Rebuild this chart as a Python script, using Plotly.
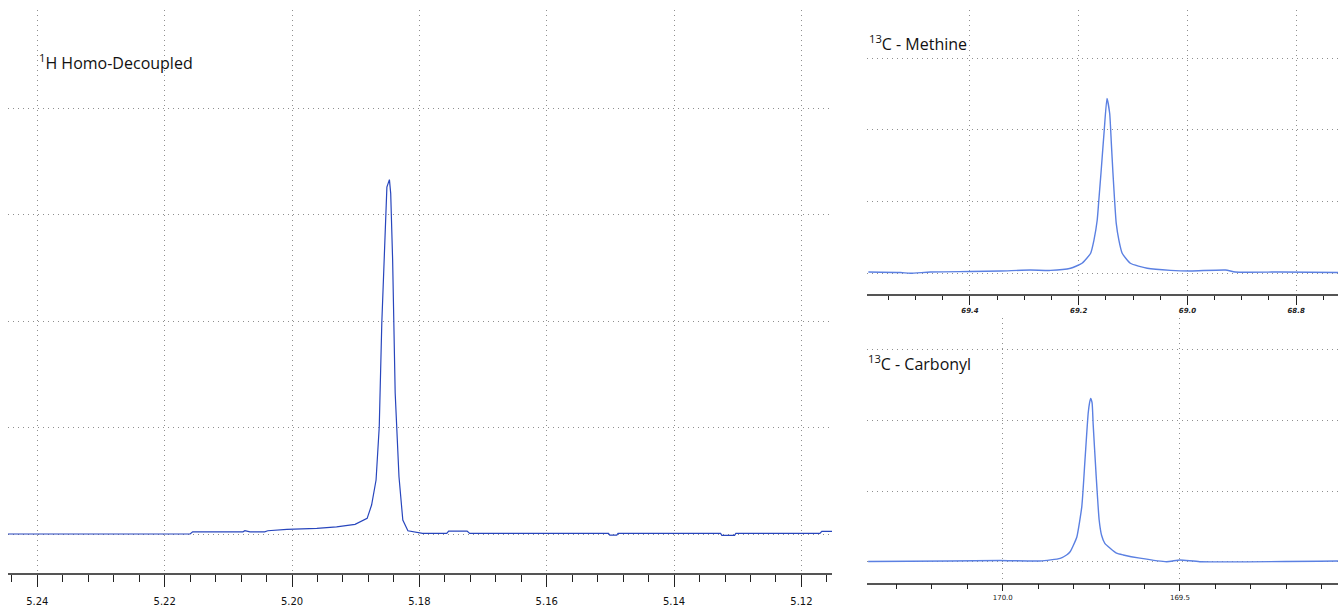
import plotly.graph_objects as go

# ---------------- data ----------------
# 1H homo-decoupled spectrum (ppm, relative intensity; gridline units)
h_ppm = [5.2446, 5.2160, 5.2156, 5.2077, 5.2074, 5.2066, 5.2043, 5.2038, 5.2008,
         5.1961, 5.1930, 5.1901, 5.1882, 5.1875, 5.1868, 5.1863, 5.1859, 5.1854,
         5.1851, 5.1847, 5.1845, 5.1842, 5.1838, 5.1832, 5.1826, 5.1818, 5.1795,
         5.1757, 5.1754, 5.1725, 5.1721, 5.1503, 5.1501, 5.1490, 5.1488, 5.1327,
         5.1325, 5.1305, 5.1303, 5.1171, 5.1168, 5.1152]
h_int = [0.003, 0.003, 0.024, 0.024, 0.034, 0.024, 0.024, 0.034, 0.047,
         0.056, 0.071, 0.094, 0.150, 0.275, 0.51, 1.01, 1.98, 2.89,
         3.26, 3.33, 3.20, 2.58, 1.33, 0.54, 0.134, 0.034, 0.009,
         0.009, 0.031, 0.031, 0.009, 0.009, -0.007, -0.007, 0.009, 0.009,
         -0.010, -0.010, 0.009, 0.009, 0.028, 0.028]

# 13C methine spectrum
m_ppm = [69.587, 69.528, 69.510, 69.473, 69.399, 69.344, 69.289, 69.252, 69.215,
         69.194, 69.178, 69.172, 69.166, 69.163, 69.159, 69.153, 69.148, 69.143,
         69.140, 69.137, 69.134, 69.131, 69.126, 69.120, 69.105, 69.074, 69.031,
         68.994, 68.930, 68.912, 68.829, 68.722]
m_int = [0.018, 0.011, 0.0, 0.018, 0.025, 0.032, 0.046, 0.04, 0.07,
         0.14, 0.28, 0.46, 0.74, 1.02, 1.40, 2.0, 2.44, 2.23,
         1.82, 1.40, 1.02, 0.70, 0.46, 0.28, 0.14, 0.07, 0.04,
         0.032, 0.046, 0.018, 0.018, 0.011]

# 13C carbonyl spectrum
c_ppm = [170.380, 170.149, 170.008, 169.895, 169.838, 169.820, 169.810, 169.801,
         169.791, 169.777, 169.768, 169.759, 169.755, 169.752, 169.748, 169.745,
         169.737, 169.728, 169.721, 169.712, 169.697, 169.679, 169.660, 169.613,
         169.538, 169.500, 169.444, 169.054]
c_int = [0.003, 0.010, 0.017, 0.010, 0.048, 0.095, 0.14, 0.23,
         0.35, 0.78, 1.44, 2.10, 2.25, 2.31, 2.25, 1.95,
         1.26, 0.59, 0.37, 0.26, 0.19, 0.12, 0.095, 0.05,
         0.0, 0.024, 0.0, 0.010]

titles = ["<sup>1</sup>H Homo-Decoupled", "<sup>13</sup>C - Methine", "<sup>13</sup>C - Carbonyl"]

# ---------------- figure ----------------
W, H = 1338, 611
def px(x):
    return x / W
def py(y):
    return 1 - y / H

dark_blue = "#2846bd"
light_blue = "#5b80e2"
grid_col = "#8f8f8f"
grid_dash = "1px,4px"

fig = go.Figure()
fig.add_trace(go.Scatter(x=h_ppm, y=h_int, mode="lines", line=dict(color=dark_blue, width=1.2),
                         xaxis="x", yaxis="y", showlegend=False, hoverinfo="skip"))
fig.add_trace(go.Scatter(x=m_ppm, y=m_int, mode="lines",
                         line=dict(color=light_blue, width=1.4, shape="spline", smoothing=0.5),
                         xaxis="x2", yaxis="y2", showlegend=False, hoverinfo="skip"))
fig.add_trace(go.Scatter(x=c_ppm, y=c_int, mode="lines",
                         line=dict(color=light_blue, width=1.4, shape="spline", smoothing=0.5),
                         xaxis="x3", yaxis="y3", showlegend=False, hoverinfo="skip"))

def xax(domain, rng, dtick, minor_dtick, ticklen, minorlen, fmt, font, standoff, tick0, anchor):
    return dict(domain=domain, range=rng, anchor=anchor, showline=True, linecolor="#555555",
                linewidth=1.5, ticks="outside", ticklen=ticklen, tickwidth=1, tickcolor="#222222",
                dtick=dtick, tick0=tick0, tickformat=fmt, tickfont=font,
                ticklabelstandoff=standoff,
                showgrid=True, gridcolor=grid_col, griddash=grid_dash, gridwidth=1,
                zeroline=False, fixedrange=True,
                minor=dict(dtick=minor_dtick, tick0=tick0, ticks="outside", ticklen=minorlen,
                           tickwidth=1, tickcolor="#222222", showgrid=False))

def yax(domain, rng, anchor):
    return dict(domain=domain, range=rng, anchor=anchor, showgrid=True, gridcolor=grid_col,
                griddash=grid_dash, gridwidth=1, dtick=1, tick0=0, showticklabels=False,
                ticks="", zeroline=False, showline=False, fixedrange=True)

left_dom = [px(8), px(832)]
right_dom = [px(866.7), 1.0]

fig.update_layout(
    width=W, height=H, margin=dict(l=0, r=0, t=0, b=0),
    plot_bgcolor="white", paper_bgcolor="white",
    xaxis=xax(left_dom, [5.2446, 5.1152], 0.02, 0.004, 12, 7, ".2f",
              dict(family="DejaVu Sans", size=10, color="#111111"), 6, 5.12, "y"),
    yaxis=yax([py(573), py(10)], [-0.363, 4.923], "x"),
    xaxis2=xax(right_dom, [69.59, 68.723], 0.2, 0.05, 9, 4, ".1f",
               dict(family="DejaVu Sans", size=7, color="#222222", weight="bold", style="italic"),
               0, 68.8, "y2"),
    yaxis2=yax([py(294), py(10)], [-0.289, 3.674], "x2"),
    xaxis3=xax(right_dom, [170.384, 169.054], 0.5, 0.1, 7, 5, ".1f",
               dict(family="DejaVu Sans", size=7, color="#222222"), 0, 169.5, "y3"),
    yaxis3=yax([py(582.7), py(318)], [-0.297, 3.447], "x3"),
)

title_pos = [(37, 62), (867, 43), (866, 363)]
for t, (x, y) in zip(titles, title_pos):
    fig.add_annotation(text=t, x=px(x), y=py(y), xref="paper", yref="paper",
                       xanchor="left", yanchor="middle", showarrow=False,
                       font=dict(family="Open Sans", size=16, color="#111111"))

fig.write_html("out.html")
